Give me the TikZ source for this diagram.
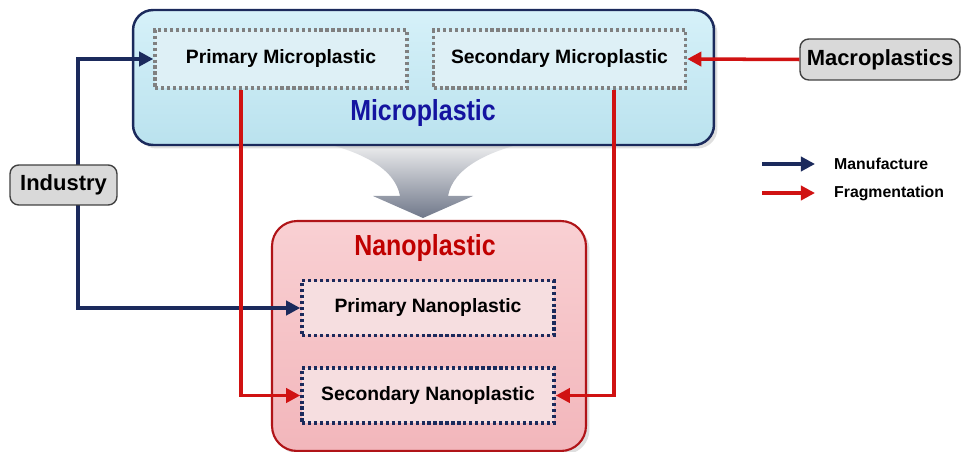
\documentclass[tikz,border=0pt]{standalone}
\usepackage{fontspec}
\setmainfont{Liberation Sans}
\newfontfamily\headfont[FakeStretch=0.86]{Liberation Sans}
\usetikzlibrary{arrows.meta,positioning,shadows}
\definecolor{mpnavy}{RGB}{27,42,92}
\definecolor{mpred}{RGB}{208,18,18}
\definecolor{mpdred}{RGB}{176,20,24}
\definecolor{mpbluetop}{RGB}{214,241,249}
\definecolor{mpbluebot}{RGB}{186,226,238}
\definecolor{mpblueinner}{RGB}{222,240,246}
\definecolor{mppinktop}{RGB}{249,208,211}
\definecolor{mppinkbot}{RGB}{242,182,187}
\definecolor{mppinkinner}{RGB}{246,222,224}
\definecolor{mpgray}{RGB}{217,217,217}
\definecolor{mpfunnel}{RGB}{112,120,138}
\definecolor{mptext}{RGB}{20,20,160}
\definecolor{mpnano}{RGB}{192,0,0}

\begin{document}
\begin{tikzpicture}[
  x=0.02cm, y=-0.02cm,
  mbox/.style={draw=mpnavy, line width=1.4pt, rounded corners=0.4cm, top color=mpbluetop, bottom color=mpbluebot, drop shadow={opacity=0.25, shadow xshift=2pt, shadow yshift=-2pt}},
  nbox/.style={draw=mpdred, line width=1.2pt, rounded corners=0.5cm, top color=mppinktop, bottom color=mppinkbot, drop shadow={opacity=0.25, shadow xshift=2pt, shadow yshift=-2pt}},
  inmic/.style={draw=black!50, fill=mpblueinner, line width=2pt, dash pattern=on 1.8pt off 1.6pt, minimum width=5.04cm, minimum height=1.16cm, font=\fontsize{11}{13}\selectfont\bfseries},
  innano/.style={draw=mpnavy, fill=mppinkinner, line width=2pt, dash pattern=on 1.8pt off 1.6pt, minimum width=5.04cm, minimum height=1.1cm, font=\fontsize{11}{13}\selectfont\bfseries},
  srcbox/.style={draw=black!75, fill=mpgray, line width=0.8pt, rounded corners=5pt, font=\fontsize{12.5}{14}\selectfont\bfseries},
  manu/.style={draw=mpnavy, line width=2pt, -{Triangle[length=8pt,width=8pt]}},
  frag/.style={draw=mpred, line width=2pt, -{Triangle[length=8pt,width=8pt]}},
  lgtext/.style={anchor=west, font=\fontsize{9}{11}\selectfont\bfseries}
]
  \useasboundingbox (0,0) rectangle (962,452);

  %% Funnel arrow between the two groups
  \shade[top color=gray!8, bottom color=mpfunnel]
    (310,140) .. controls (360,150) and (395,168) .. (400,196) -- (373,196) -- (423,218)
    -- (473,196) -- (448,196) .. controls (453,168) and (488,150) .. (538,140) -- cycle;

  %% Microplastic group
  \node[mbox, minimum width=11.62cm, minimum height=2.7cm] (mic) at (423.5,77.5) {};
  \node[inmic] (pmic) at (281,59) {Primary Microplastic};
  \node[inmic] (smic) at (559.5,59) {Secondary Microplastic};
  \node[font=\headfont\fontsize{16.5}{18}\selectfont\bfseries, text=mptext] (micl) at (423,113) {Microplastic};

  %% Nanoplastic group
  \node[nbox, minimum width=6.28cm, minimum height=4.6cm] (nano) at (429,336) {};
  \node[font=\headfont\fontsize{16.5}{18}\selectfont\bfseries, text=mpnano] (nanol) at (425,248) {Nanoplastic};
  \node[innano] (pnano) at (428,308) {Primary Nanoplastic};
  \node[innano] (snano) at (428,395.5) {Secondary Nanoplastic};

  %% Manufacture paths
  \coordinate (bus) at (78,185);
  \draw[manu] (bus) |- (pmic.west);
  \draw[manu] (bus) |- (pnano.west);

  %% Fragmentation paths
  \draw[frag] ([xshift=-0.8cm]pmic.south) |- (snano.west);
  \draw[frag] ([xshift=1.09cm]smic.south) |- (snano.east);

  %% Sources
  \node[srcbox, minimum width=2.14cm, minimum height=0.8cm] (ind) at (63.5,185) {Industry};
  \node[srcbox, minimum width=3.2cm, minimum height=0.82cm] (mac) at (880,59.5) {Macroplastics};
  \draw[frag] (mac.west) -- (smic.east);

  %% Legend
  \node[lgtext] (lgm) at (828,164) {Manufacture};
  \node[lgtext] (lgf) at (828,193) {Fragmentation};
  \coordinate (lgm0) at (762,164);
  \coordinate (lgf0) at (762,193);
  \draw[manu] (lgm0) -- ([xshift=-0.26cm]lgm.west);
  \draw[frag] (lgf0) -- ([xshift=-0.26cm]lgf.west);
\end{tikzpicture}
\end{document}
